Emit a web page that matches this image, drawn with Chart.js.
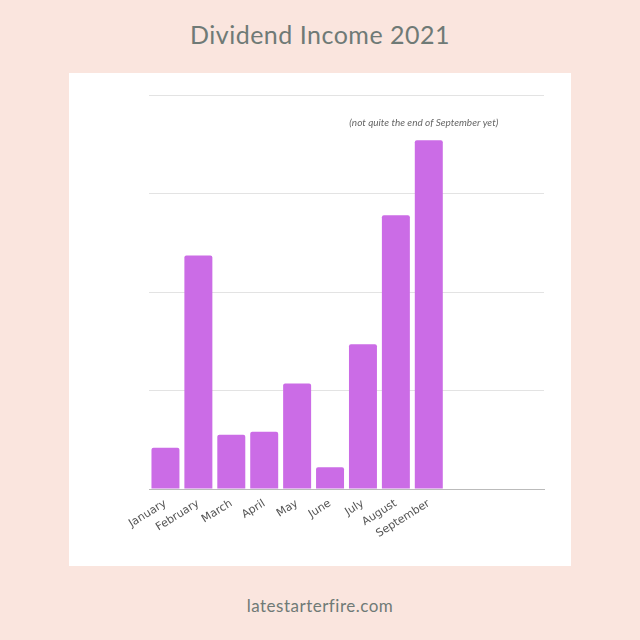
<!DOCTYPE html>
<html>
<head>
<meta charset="utf-8">
<script src="https://cdn.jsdelivr.net/npm/chart.js@4"></script>
<style>
  html, body { margin: 0; padding: 0; }
  body { width: 640px; height: 640px; background: #fae5de; position: relative; overflow: hidden; font-family: Lato, "Open Sans", sans-serif; }
  #title { position: absolute; left: 0; width: 640px; top: 19px; text-align: center; font-size: 25px; font-weight: 400; color: #6f7a76; letter-spacing: 0.5px; }
  #panel { position: absolute; left: 69px; top: 73px; width: 502px; height: 493px; background: #fff; }
  #footer { position: absolute; left: 0; width: 640px; top: 595px; text-align: center; font-size: 17px; font-weight: 400; color: #6f7a76; letter-spacing: 0.5px; }
</style>
</head>
<body>
<div id="title">Dividend Income 2021</div>
<div id="panel"><canvas id="incomeChart" width="502" height="493"></canvas></div>
<div id="footer">latestarterfire.com</div>
<script>
// Meses (los ultimos tres sin etiqueta)
const months = ['January', 'February', 'March', 'April', 'May', 'June', 'July', 'August', 'September', '', '', ''];
// Valores (sin eje visible, escala relativa 0-400)
const income = [42, 237, 55, 58, 107, 22, 147, 278, 354, null, null, null];
const yTicks = [0, 100, 200, 300, 400];
const note = '(not quite the end of September yet)';
const noteMonth = 'September';
const noteValue = 372;

// Nota sobre la barra de septiembre
const notePlugin = {
    id: 'notePlugin',
    afterDatasetsDraw(chart) {
        const ctx = chart.ctx;
        const x = chart.scales.x.getPixelForValue(months.indexOf(noteMonth));
        const y = chart.scales.y.getPixelForValue(noteValue);
        ctx.save();
        ctx.font = 'italic 10px Lato, "Open Sans", sans-serif';
        ctx.fillStyle = '#666';
        ctx.textAlign = 'center';
        ctx.textBaseline = 'middle';
        ctx.fillText(note, x - 5, y);
        ctx.restore();
    }
};

const ctx = document.getElementById('incomeChart').getContext('2d');
new Chart(ctx, {
    type: 'bar',
    data: {
        labels: months,
        datasets: [{
            data: income,
            backgroundColor: '#cb6ce6',
            borderRadius: 2,
            borderSkipped: 'bottom',
            barPercentage: 0.85,
            categoryPercentage: 1
        }]
    },
    options: {
        responsive: false,
        animation: false,
        layout: { padding: { left: 80, right: 27, top: 22, bottom: 0 } },
        plugins: {
            legend: { display: false },
            tooltip: { enabled: false }
        },
        scales: {
            x: {
                grid: { display: false },
                border: { color: '#bbb', width: 1 },
                ticks: {
                    minRotation: 32,
                    maxRotation: 32,
                    color: '#555',
                    padding: 0,
                    font: { family: '"DejaVu Sans", sans-serif', size: 11 }
                },
                afterFit(scale) { scale.height = 77; }
            },
            y: {
                min: yTicks[0],
                max: yTicks[yTicks.length - 1],
                afterBuildTicks(scale) { scale.ticks = yTicks.map(v => ({ value: v })); },
                ticks: { display: false },
                border: { display: false },
                grid: { color: '#e3e3e3', drawTicks: false },
                afterFit(scale) { scale.width = 0; }
            }
        }
    },
    plugins: [notePlugin]
});
</script>
</body>
</html>
